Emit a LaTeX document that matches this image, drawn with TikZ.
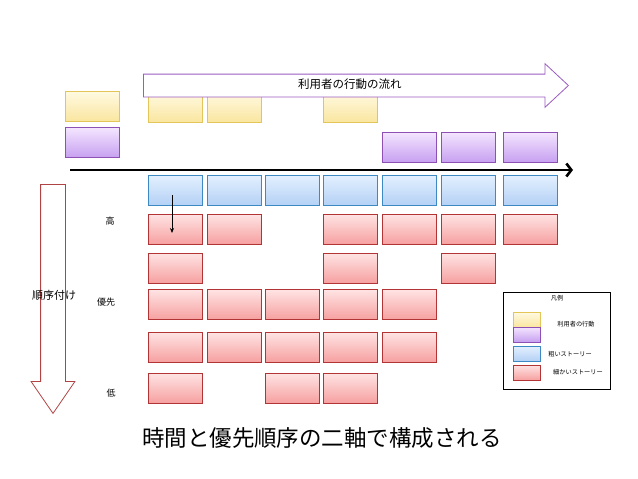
\documentclass[tikz,border=0pt]{standalone}
\usepackage{fontspec}
\setmainfont{Noto Sans CJK JP}
\usetikzlibrary{arrows.meta,shapes.arrows}
\definecolor{actline}{HTML}{E3C55A}
\definecolor{acttop}{HTML}{FFFAE2}
\definecolor{actbot}{HTML}{FAE6A0}
\definecolor{stepline}{HTML}{8E50B5}
\definecolor{steptop}{HTML}{F4E6FF}
\definecolor{stepbot}{HTML}{C7A0F0}
\definecolor{roughline}{HTML}{3D89C4}
\definecolor{roughtop}{HTML}{E4F0FF}
\definecolor{roughbot}{HTML}{B4D1F5}
\definecolor{fineline}{HTML}{B23434}
\definecolor{finetop}{HTML}{FFE4E4}
\definecolor{finebot}{HTML}{F6A0A0}
\definecolor{flowline}{HTML}{9B5BC2}
\definecolor{rankline}{HTML}{B04444}
\tikzset{
    storymap/.style={
        x=1pt, y=-1pt,
        card/.style={draw, line width=0.8pt, inner sep=0pt, minimum width=54pt, minimum height=30pt},
        actcard/.style={card, draw=actline, top color=acttop, bottom color=actbot},
        stepcard/.style={card, draw=stepline, top color=steptop, bottom color=stepbot},
        roughcard/.style={card, draw=roughline, top color=roughtop, bottom color=roughbot},
        finecard/.style={card, draw=fineline, top color=finetop, bottom color=finebot},
        keycard/.style={minimum width=27pt, minimum height=15pt},
        keytext/.style={font=\fontsize{6.2}{7}\selectfont},
        side/.style={font=\fontsize{9}{10}\selectfont},
    },
}

\begin{document}
\begin{tikzpicture}[storymap]
    \useasboundingbox (0,0) rectangle (638,479);

    % activities and steps
    \foreach \c/\x in {1/175,2/234,4/350}
        \node[actcard] (y\c) at (\x,107) {};
    \foreach \c/\x in {5/409,6/468,7/530}
        \node[stepcard] (p\c) at (\x,147) {};
    \node[actcard]  (ykey) at (92,106)   {};
    \node[stepcard] (pkey) at (92,142.5) {};

    \node[single arrow, draw=flowline, fill=white, line width=0.8pt, anchor=tail,
          minimum height=425pt, text height=7.5pt, text depth=2pt,
          inner xsep=0pt, inner ysep=6.25pt,
          single arrow head extend=10.5pt, single arrow tip angle=86,
          font=\fontsize{11.5}{13}\selectfont] (flow) at (143,85.5) {利用者の行動の流れ};

    % time axis
    \coordinate (t0) at (70,170);
    \coordinate (t1) at (573,170);
    \draw[line width=2.6pt, -{Straight Barb[length=5pt, width=13pt]}] (t0) -- (t1);

    % rough stories
    \foreach \c/\x in {1/175,2/234,3/292,4/350,5/409,6/468,7/530}
        \node[roughcard] (b\c) at (\x,190) {};

    % fine stories
    \foreach \c/\x in {1/175,2/234,4/350,5/409,6/468,7/530}
        \node[finecard] (r1\c) at (\x,229) {};
    \foreach \c/\x in {1/175,4/350,6/468}
        \node[finecard] (r2\c) at (\x,268) {};
    \foreach \c/\x in {1/175,2/234,3/292,4/350,5/409}
        \node[finecard] (r3\c) at (\x,304.5) {};
    \foreach \c/\x in {1/175,2/234,3/292,4/350,5/409}
        \node[finecard] (r4\c) at (\x,347) {};
    \foreach \c/\x in {1/175,3/292,4/350}
        \node[finecard] (r5\c) at (\x,388) {};

    \draw[line width=0.8pt, -{Stealth[length=5pt, width=4pt]}]
        ([xshift=-3pt, yshift=-5pt]b1.center) -- ([xshift=-3pt, yshift=-4pt]r11.center);

    % priority axis
    \node[single arrow, draw=rankline, line width=0.8pt, rotate=-90, anchor=tail,
          minimum height=229pt, inner xsep=0pt, inner ysep=12pt,
          single arrow head extend=9.5pt, single arrow tip angle=69] (rank) at (53,184) {};
    \node[font=\fontsize{11}{12}\selectfont] (ranklabel) at (54,295) {順序付け};
    \node[side] (high) at (110,221) {高};
    \node[side] (mid)  at (106,302) {優先};
    \node[side] (low)  at (111,393) {低};

    % legend
    \node[draw, line width=0.8pt, minimum width=107pt, minimum height=97pt] (legend) at (556.5,340.5) {};
    \node[keytext] (legendtitle) at (557,298) {凡例};
    \node[actcard, keycard]   (kact)   at (526.5,319.5) {};
    \node[stepcard, keycard]  (kstep)  at (526.5,334.5) {};
    \node[roughcard, keycard] (krough) at (526.5,353.5) {};
    \node[finecard, keycard]  (kfine)  at (526.5,372.5) {};
    \node[keytext] (kacttext)   at (576,324)   {利用者の行動};
    \node[keytext] (kroughtext) at (570,354)   {粗いストーリー};
    \node[keytext] (kfinetext)  at (578,372.5) {細かいストーリー};

    \node[font=\fontsize{22.5}{26}\selectfont] (title) at (322,438) {時間と優先順序の二軸で構成される};
\end{tikzpicture}
\end{document}
